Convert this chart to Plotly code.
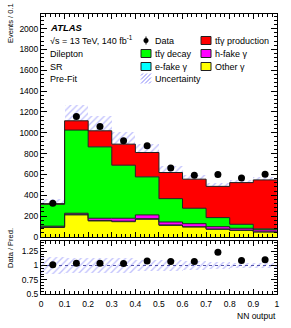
import plotly.graph_objects as go

# ---------------- data ----------------
bin_edges = [0.0, 0.1, 0.2, 0.3, 0.4, 0.5, 0.6, 0.7, 0.8, 0.9, 1.0]
other_gamma = [92, 212, 154, 147, 170, 112, 96, 74, 64, 48]
efake_gamma = [4, 6, 5, 5, 6, 4, 3, 3, 2, 2]
hfake_gamma = [8, 10, 21, 28, 36, 28, 29, 22, 18, 18]
ttg_decay = [210, 798, 685, 509, 365, 224, 148, 87, 38, 10]
ttg_prod = [6, 89, 154, 202, 234, 251, 279, 300, 400, 470]
data_obs = [324, 1157, 1061, 923, 875, 663, 593, 600, 567, 603]
rel_unc = [0.15, 0.14, 0.14, 0.13, 0.10, 0.10, 0.08, 0.06, 0.05, 0.05]

x_ticklabels = ["0", "0.1", "0.2", "0.3", "0.4", "0.5", "0.6", "0.7", "0.8", "0.9", "1"]
r_ticks = [0.5, 0.75, 1, 1.25]
r_ticklabels = ["0.5", "0.75", "1", "1.25"]

TTG = "tt\u0304\u03b3"

# ---------------- derived ----------------
centers = [(bin_edges[i] + bin_edges[i + 1]) / 2 for i in range(len(bin_edges) - 1)]
widths = [bin_edges[i + 1] - bin_edges[i] for i in range(len(bin_edges) - 1)]
components = [
    ("Other γ", other_gamma, "#FFFF00"),
    ("e-fake γ", efake_gamma, "#00FFFF"),
    ("h-fake γ", hfake_gamma, "#FF00FF"),
    (TTG + " decay", ttg_decay, "#00FF00"),
    (TTG + " production", ttg_prod, "#FF0000"),
]
FONT = "Liberation Sans, Arial, sans-serif"
HATCH = "rgba(110,110,250,0.85)"

fig = go.Figure()
cum = [0.0] * len(centers)
for i, (name, vals, col) in enumerate(components):
    cum = [c + v for c, v in zip(cum, vals)]
    fig.add_trace(go.Scatter(
        x=bin_edges, y=cum + [cum[-1]], mode="lines", line=dict(shape="hv", color="#202020", width=1),
        fill="tozeroy" if i == 0 else "tonexty", fillcolor=col, name=name, showlegend=False,
        xaxis="x", yaxis="y"))
total = cum
unc = [t * r for t, r in zip(total, rel_unc)]

hatch = dict(color="rgba(0,0,0,0)", line=dict(width=0),
             pattern=dict(shape="/", fgcolor=HATCH, bgcolor="rgba(0,0,0,0)", size=4.5, solidity=0.3,
                          fillmode="overlay"))
fig.add_trace(go.Bar(
    x=centers, y=[2 * u for u in unc], base=[t - u for t, u in zip(total, unc)], width=widths,
    marker=hatch, showlegend=False, xaxis="x", yaxis="y"))

fig.add_trace(go.Scatter(x=centers, y=data_obs, mode="markers",
                         marker=dict(color="black", size=7), showlegend=False, xaxis="x", yaxis="y"))

# ratio panel
ratio = [d / t for d, t in zip(data_obs, total)]
fig.add_trace(go.Bar(
    x=centers, y=[2 * r for r in rel_unc], base=[1 - r for r in rel_unc], width=widths,
    marker=hatch, showlegend=False, xaxis="x2", yaxis="y2"))
fig.add_trace(go.Scatter(x=[bin_edges[0], bin_edges[-1]], y=[1, 1], mode="lines",
                         line=dict(color="#5555aa", width=1, dash="dot"), showlegend=False,
                         xaxis="x2", yaxis="y2"))
fig.add_trace(go.Scatter(x=centers, y=ratio, mode="markers",
                         marker=dict(color="black", size=7), showlegend=False, xaxis="x2", yaxis="y2"))

W, H = 291, 328
L, R, T, B = 41, 14, 14, 34
pw, ph = W - L - R, H - T - B


def px(xp):
    return (xp - L) / pw


def py(yp):
    return (H - B - yp) / ph


top_dom = [py(237), 1]
bot_dom = [0, py(241)]

tickfont = dict(family=FONT, size=8.5, color="black")
common = dict(showline=True, linecolor="black", linewidth=1, mirror="allticks", ticks="inside",
              tickcolor="black", showgrid=False, zeroline=False, tickfont=tickfont,
              ticklabeloverflow="allow")
xr = [0, 1.0005]

fig.update_layout(
    width=W, height=H, margin=dict(l=L, r=R, t=T, b=B, autoexpand=False), paper_bgcolor="white",
    plot_bgcolor="white", hovermode=False,
    barmode="overlay", bargap=0, showlegend=False, font=dict(family=FONT, color="black"),
    xaxis=dict(domain=[0, 1], range=xr, anchor="y", tickmode="linear", tick0=0, dtick=0.1,
               showticklabels=False,
               ticklen=5, minor=dict(dtick=0.02, ticks="inside", ticklen=3, tickcolor="black"), **common),
    yaxis=dict(domain=top_dom, range=[0, 2140], anchor="x", dtick=200, ticklen=6,
               minor=dict(dtick=40, ticks="inside", ticklen=3, tickcolor="black"), **common),
    xaxis2=dict(domain=[0, 1], range=xr, anchor="y2", tickmode="array", tickvals=bin_edges,
                ticktext=x_ticklabels, ticklen=5, ticklabelstandoff=2,
                minor=dict(dtick=0.02, ticks="inside", ticklen=3, tickcolor="black"), **common),
    yaxis2=dict(domain=bot_dom, range=[0.5, 1.43], anchor="x2", tickvals=r_ticks, ticktext=r_ticklabels,
                ticklen=6, minor=dict(dtick=0.05, ticks="inside", ticklen=3, tickcolor="black"), **common),
)

ann = []


def text(x, y, s, size=9, xanchor="left", yanchor="middle", angle=0):
    ann.append(dict(x=px(x), y=py(y), xref="paper", yref="paper", text=s, showarrow=False,
                    xanchor=xanchor, yanchor=yanchor, textangle=angle, align="left",
                    font=dict(family=FONT, size=size, color="black")))


text(48, 27.5, "<b><i>ATLAS</i></b>", size=9.5)
text(48, 39.5, "√s = 13 TeV, 140 fb<sup>-1</sup>")
text(48, 53.5, "Dilepton")
text(48, 66.5, "SR")
text(48, 79.5, "Pre-Fit")
text(10, 23, "Events / 0.1", size=7.5, xanchor="center", yanchor="middle", angle=-90)
text(10, 248, "Data / Pred.", size=7.5, xanchor="center", yanchor="middle", angle=-90)
text(278, 316, "NN output", size=8.5, xanchor="right")

# manual legend
legend_rows = [40.5, 53.5, 66.5, 79.5]
col1_box, col2_box = 141, 201
legend_items = [
    (col1_box, legend_rows[1], "#00FF00", TTG + " decay"),
    (col1_box, legend_rows[2], "#00FFFF", "e-fake γ"),
    (col2_box, legend_rows[0], "#FF0000", TTG + " production"),
    (col2_box, legend_rows[1], "#FF00FF", "h-fake γ"),
    (col2_box, legend_rows[2], "#FFFF00", "Other γ"),
]
shapes = []
for bx, by, col, lab in legend_items:
    shapes.append(dict(type="rect", xref="paper", yref="paper", layer="above",
                       x0=px(bx), x1=px(bx + 10), y0=py(by + 4), y1=py(by - 4),
                       fillcolor=col, line=dict(color="#202020", width=1)))
    text(bx + 12, by, lab, size=9)
# data key
shapes.append(dict(type="circle", xref="paper", yref="paper", x0=px(col1_box + 2.5), x1=px(col1_box + 7.5),
                   y0=py(legend_rows[0] + 2.5), y1=py(legend_rows[0] - 2.5), fillcolor="black",
                   line=dict(color="black", width=0)))
shapes.append(dict(type="line", xref="paper", yref="paper", x0=px(col1_box + 5), x1=px(col1_box + 5),
                   y0=py(legend_rows[0] + 4), y1=py(legend_rows[0] - 4), line=dict(color="black", width=1)))
text(col1_box + 12, legend_rows[0], "Data", size=9)
# uncertainty key (hatched)
uy = legend_rows[3]
for k in range(-2, 3):
    x0, x1 = col1_box + k * 4, col1_box + 10 + k * 4
    y0, y1 = uy + 4, uy - 6
    if x0 < col1_box:
        y0 -= (col1_box - x0); x0 = col1_box
    if x1 > col1_box + 10:
        y1 += (x1 - col1_box - 10); x1 = col1_box + 10
    if x1 > x0:
        shapes.append(dict(type="line", xref="paper", yref="paper", x0=px(x0), x1=px(x1),
                           y0=py(y0), y1=py(y1), line=dict(color=HATCH, width=1)))
text(col1_box + 12, uy, "Uncertainty", size=9)

fig.update_layout(annotations=ann, shapes=shapes)
post = ("document.body.style.margin='0';document.body.style.padding='0';"
        "var gd=document.getElementById('{plot_id}');Plotly.relayout(gd,{'xaxis2.range':[0,1.0005]});")
fig.write_html("out.html", post_script=post, config={"displayModeBar": False, "staticPlot": True})
